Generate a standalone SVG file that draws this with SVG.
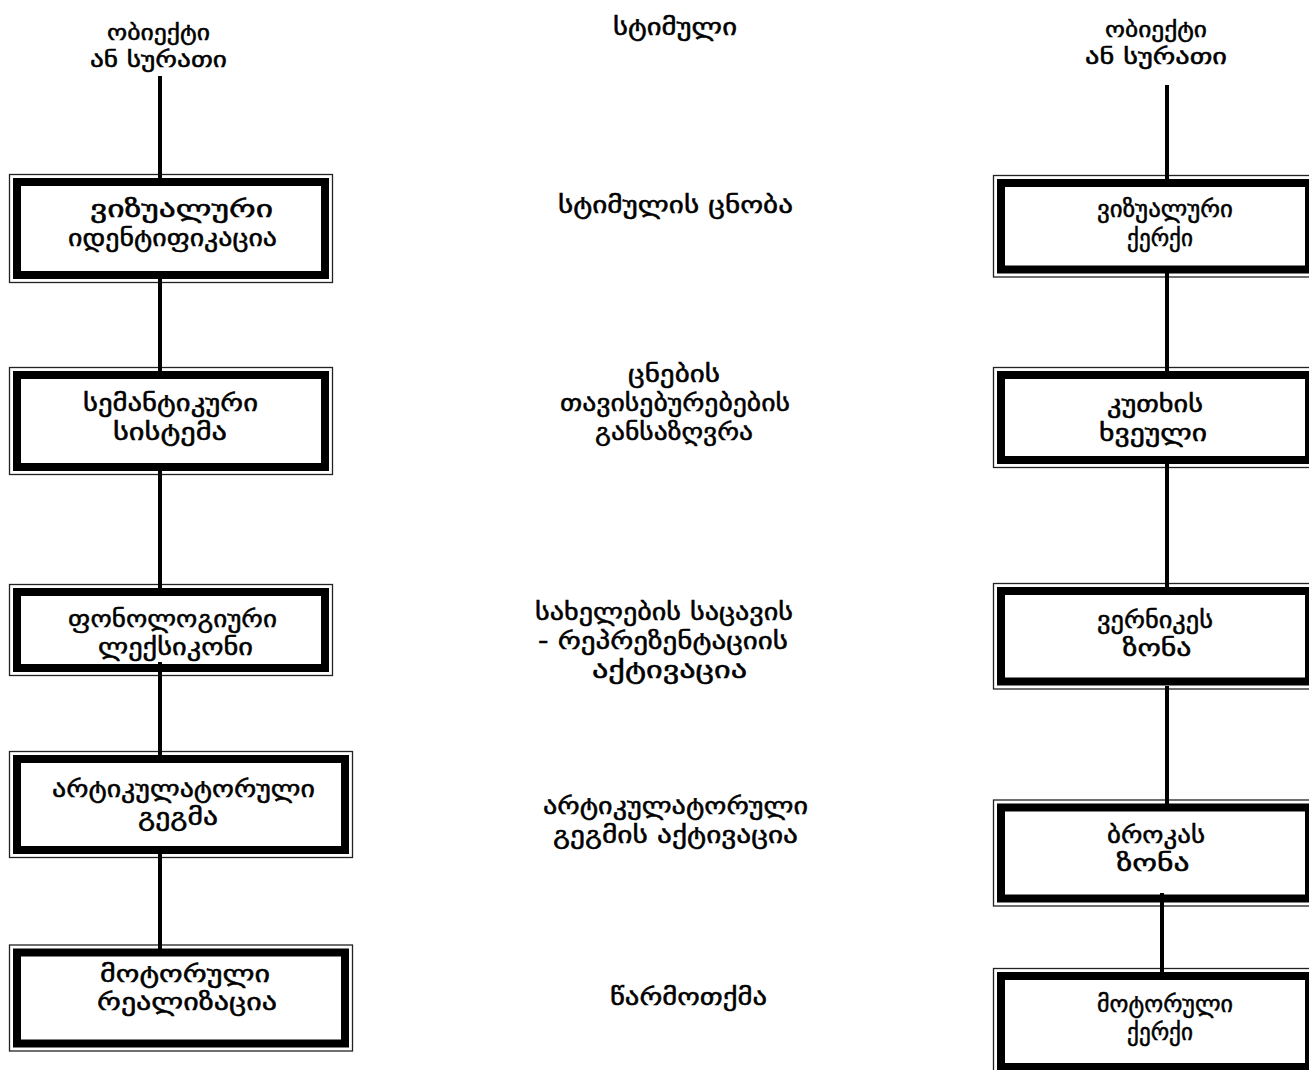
<svg xmlns="http://www.w3.org/2000/svg" width="1309" height="1070" viewBox="0 0 1309 1070">
  <style>
    .frame-thin { fill: none; stroke: #222; stroke-width: 1.3; }
    .frame-thick { fill: #fff; stroke: #000; stroke-width: 8; }
    .wire { stroke: #000; stroke-width: 4; fill: none; }
    text { font-family: "DejaVu Sans", "Noto Sans", sans-serif; fill: #000; stroke: #000; stroke-width: 0.5; text-anchor: middle; }
    .lbl { font-size: 24px; }
    .note { font-size: 24px; }
    .top { font-size: 22px; }
  </style>
  <rect width="1309" height="1070" fill="#fff"/>

  <!-- left column: processing stages -->
  <g id="stage-visual-id">
    <rect class="frame-thin" x="9.5" y="174.5" width="323" height="108"/>
    <rect class="frame-thick" x="17" y="182" width="308" height="93"/>
    <text class="lbl" x="181.5" y="217" textLength="183" lengthAdjust="spacingAndGlyphs">ვიზუალური</text>
    <text class="lbl" x="172.5" y="246" textLength="209" lengthAdjust="spacingAndGlyphs">იდენტიფიკაცია</text>
  </g>
  <g id="stage-semantic">
    <rect class="frame-thin" x="9.5" y="367.5" width="323" height="107"/>
    <rect class="frame-thick" x="17" y="375" width="308" height="92"/>
    <text class="lbl" x="170.5" y="411" textLength="175" lengthAdjust="spacingAndGlyphs">სემანტიკური</text>
    <text class="lbl" x="170" y="440" textLength="114" lengthAdjust="spacingAndGlyphs">სისტემა</text>
  </g>
  <g id="stage-lexicon">
    <rect class="frame-thin" x="9.5" y="584.5" width="323" height="91"/>
    <rect class="frame-thick" x="17" y="592" width="308" height="76"/>
    <text class="lbl" x="172.5" y="627" textLength="209" lengthAdjust="spacingAndGlyphs">ფონოლოგიური</text>
    <text class="lbl" x="175.5" y="655" textLength="155" lengthAdjust="spacingAndGlyphs">ლექსიკონი</text>
  </g>
  <g id="stage-articulatory">
    <rect class="frame-thin" x="9.5" y="751.5" width="343" height="106"/>
    <rect class="frame-thick" x="17" y="759" width="328" height="91"/>
    <text class="lbl" x="183.5" y="797" textLength="263" lengthAdjust="spacingAndGlyphs">არტიკულატორული</text>
    <text class="lbl" x="178" y="825" textLength="80" lengthAdjust="spacingAndGlyphs">გეგმა</text>
  </g>
  <g id="stage-motor">
    <rect class="frame-thin" x="9.5" y="945" width="343" height="106"/>
    <rect class="frame-thick" x="17" y="952.5" width="328" height="91"/>
    <text class="lbl" x="185" y="982" textLength="170" lengthAdjust="spacingAndGlyphs">მოტორული</text>
    <text class="lbl" x="187" y="1010" textLength="180" lengthAdjust="spacingAndGlyphs">რეალიზაცია</text>
  </g>

  <!-- right column: brain areas -->
  <g id="area-visual-cortex">
    <rect class="frame-thin" x="993.5" y="175.5" width="323" height="101.5"/>
    <rect class="frame-thick" x="1001" y="183" width="308" height="86.5"/>
    <text class="lbl" x="1165" y="217" textLength="136" lengthAdjust="spacingAndGlyphs">ვიზუალური</text>
    <text class="lbl" x="1160" y="246" textLength="66" lengthAdjust="spacingAndGlyphs">ქერქი</text>
  </g>
  <g id="area-angular-gyrus">
    <rect class="frame-thin" x="993.5" y="367.5" width="323" height="100"/>
    <rect class="frame-thick" x="1001" y="375" width="308" height="85"/>
    <text class="lbl" x="1155" y="412" textLength="96" lengthAdjust="spacingAndGlyphs">კუთხის</text>
    <text class="lbl" x="1153" y="441" textLength="108" lengthAdjust="spacingAndGlyphs">ხვეული</text>
  </g>
  <g id="area-wernicke">
    <rect class="frame-thin" x="993.5" y="583.5" width="323" height="105.5"/>
    <rect class="frame-thick" x="1001" y="591" width="308" height="90.5"/>
    <text class="lbl" x="1155" y="628" textLength="116" lengthAdjust="spacingAndGlyphs">ვერნიკეს</text>
    <text class="lbl" x="1157" y="656" textLength="69" lengthAdjust="spacingAndGlyphs">ზონა</text>
  </g>
  <g id="area-broca">
    <rect class="frame-thin" x="993.5" y="800" width="323" height="106"/>
    <rect class="frame-thick" x="1001" y="807.5" width="308" height="91"/>
    <text class="lbl" x="1156" y="843" textLength="98" lengthAdjust="spacingAndGlyphs">ბროკას</text>
    <text class="lbl" x="1153" y="871" textLength="73" lengthAdjust="spacingAndGlyphs">ზონა</text>
  </g>
  <g id="area-motor-cortex">
    <rect class="frame-thin" x="993.5" y="968.5" width="323" height="106"/>
    <rect class="frame-thick" x="1001" y="976" width="308" height="91"/>
    <text class="lbl" x="1165" y="1012" textLength="136" lengthAdjust="spacingAndGlyphs">მოტორული</text>
    <text class="lbl" x="1160" y="1040" textLength="66" lengthAdjust="spacingAndGlyphs">ქერქი</text>
  </g>

  <!-- inputs at the top of each column -->
  <g id="input-left">
    <text class="top" x="158.5" y="40" textLength="103" lengthAdjust="spacingAndGlyphs">ობიექტი</text>
    <text class="top" x="158.5" y="67" textLength="137" lengthAdjust="spacingAndGlyphs">ან სურათი</text>
  </g>
  <g id="input-right">
    <text class="top" x="1156" y="37" textLength="102" lengthAdjust="spacingAndGlyphs">ობიექტი</text>
    <text class="top" x="1156" y="64" textLength="142" lengthAdjust="spacingAndGlyphs">ან სურათი</text>
  </g>

  <!-- middle column: operations -->
  <g id="op-stimulus">
    <text class="note" x="675" y="35" textLength="124" lengthAdjust="spacingAndGlyphs">სტიმული</text>
  </g>
  <g id="op-recognition">
    <text class="note" x="675.5" y="213" textLength="235" lengthAdjust="spacingAndGlyphs">სტიმულის ცნობა</text>
  </g>
  <g id="op-features">
    <text class="note" x="674" y="382" textLength="92" lengthAdjust="spacingAndGlyphs">ცნების</text>
    <text class="note" x="675" y="411" textLength="230" lengthAdjust="spacingAndGlyphs">თავისებურებების</text>
    <text class="note" x="674" y="440" textLength="158" lengthAdjust="spacingAndGlyphs">განსაზღვრა</text>
  </g>
  <g id="op-name-store">
    <text class="note" x="664" y="620" textLength="258" lengthAdjust="spacingAndGlyphs">სახელების საცავის</text>
    <text class="note" x="663" y="649" textLength="250" lengthAdjust="spacingAndGlyphs">- რეპრეზენტაციის</text>
    <text class="note" x="669.5" y="678" textLength="155" lengthAdjust="spacingAndGlyphs">აქტივაცია</text>
  </g>
  <g id="op-plan">
    <text class="note" x="675.5" y="814" textLength="265" lengthAdjust="spacingAndGlyphs">არტიკულატორული</text>
    <text class="note" x="675.5" y="843" textLength="245" lengthAdjust="spacingAndGlyphs">გეგმის აქტივაცია</text>
  </g>
  <g id="op-utterance">
    <text class="note" x="688.5" y="1005" textLength="157" lengthAdjust="spacingAndGlyphs">წარმოთქმა</text>
  </g>

  <!-- vertical links between the stages -->
  <g id="connectors">
    <line class="wire" x1="160" y1="76" x2="160" y2="180"/>
    <line class="wire" x1="160" y1="277" x2="160" y2="373"/>
    <line class="wire" x1="160" y1="469" x2="160" y2="590"/>
    <line class="wire" x1="160" y1="662" x2="160" y2="757"/>
    <line class="wire" x1="160" y1="853" x2="160" y2="950"/>
    <line class="wire" x1="1167" y1="85" x2="1167" y2="181"/>
    <line class="wire" x1="1167" y1="271" x2="1167" y2="373"/>
    <line class="wire" x1="1167" y1="462" x2="1167" y2="589"/>
    <line class="wire" x1="1167" y1="686" x2="1167" y2="806"/>
    <line class="wire" x1="1162" y1="893" x2="1162" y2="980"/>
  </g>
</svg>
